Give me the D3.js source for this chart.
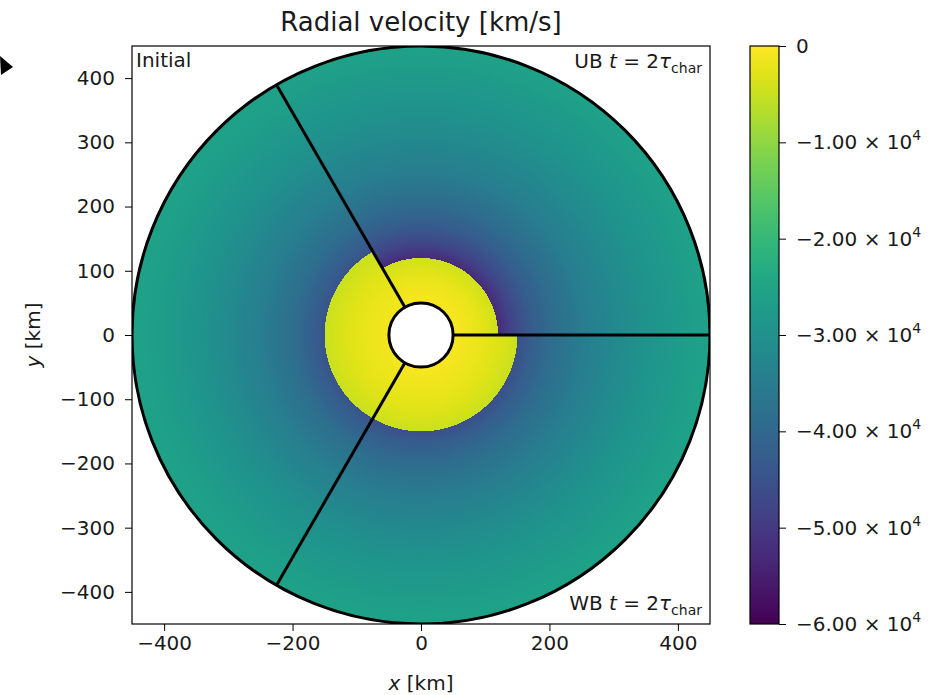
<!DOCTYPE html>
<html>
<head>
<meta charset="utf-8">
<script src="https://cdn.jsdelivr.net/npm/d3@7"></script>
<style>
  body { margin: 0; background: #fff; }
  text { font-family: "DejaVu Sans", sans-serif; fill: #1a1a1a; }
</style>
</head>
<body>
<svg id="chart" width="931" height="695"></svg>
<script>
// axis ticks (km) and colorbar ticks (km/s)
const xTicks = [-400, -200, 0, 200, 400];
const yTicks = [-400, -300, -200, -100, 0, 100, 200, 300, 400];
const cbTicks = [0, -1e4, -2e4, -3e4, -4e4, -5e4, -6e4];

// sector edges, degrees counter-clockwise from +x
const sectorNames = ["UB", "Initial", "WB"];
const sectorStart = [0, 120, 240];
const sectorEnd = [120, 240, 360];
const rHole = 50, rOuter = 450;

// radial profiles: post-shock (inside) and free-fall (outside)
const ubInR = [50, 70, 90, 110, 120];
const ubInV = [-600, -1200, -2200, -3600, -4500];
const ubOutR = [120, 140, 170, 200, 250, 300, 350, 400, 450];
const ubOutV = [-53000, -48000, -43000, -39500, -35000, -32000, -29500, -27500, -25800];

const iniInR = [50, 80, 110, 130, 150];
const iniInV = [-1000, -1800, -2800, -3800, -5000];
const iniOutR = [150, 170, 200, 250, 300, 350, 400, 450];
const iniOutV = [-44500, -42000, -38500, -34500, -31500, -29000, -27000, -25500];

const wbInR = [50, 80, 110, 130, 150];
const wbInV = [-600, -1500, -2600, -3600, -5000];
const wbOutR = [150, 170, 200, 250, 300, 350, 400, 450];
const wbOutV = [-45500, -42500, -39000, -35000, -31800, -29200, -27200, -25600];

const profiles = [
  { inR: ubInR, inV: ubInV, outR: ubOutR, outV: ubOutV },
  { inR: iniInR, inV: iniInV, outR: iniOutR, outV: iniOutV },
  { inR: wbInR, inV: wbInV, outR: wbOutR, outV: wbOutV },
];

const svg = d3.select("#chart");
const margin = { left: 132, right: 710, top: 46, bottom: 624 };

const x = d3.scaleLinear().domain([-450, 450]).range([margin.left, margin.right]);
const y = d3.scaleLinear().domain([-450, 450]).range([margin.bottom, margin.top]);
const rPx = d3.scaleLinear().domain([0, 450]).range([0, x(450) - x(0)]);
const color = d3.scaleSequential(d3.interpolateViridis).domain([-6e4, 0]);

const defs = svg.append("defs");
defs.append("clipPath").attr("id", "axclip")
  .append("rect")
  .attr("x", margin.left).attr("y", margin.top)
  .attr("width", margin.right - margin.left)
  .attr("height", margin.bottom - margin.top);

// one radial gradient per sector, colour stops from the profile scales
profiles.forEach((p, i) => {
  const grad = defs.append("radialGradient")
    .attr("id", "grad" + i)
    .attr("gradientUnits", "userSpaceOnUse")
    .attr("cx", 0).attr("cy", 0).attr("r", rPx(rOuter));
  const inner = d3.scaleLinear().domain(p.inR).range(p.inV).clamp(true);
  const outer = d3.scaleLinear().domain(p.outR).range(p.outV).clamp(true);
  const rs = p.inR[p.inR.length - 1];
  for (let r = 0; r <= rs; r += 2) {
    grad.append("stop").attr("offset", r / rOuter).attr("stop-color", color(inner(r)));
  }
  grad.append("stop").attr("offset", rs / rOuter).attr("stop-color", color(inner(rs)));
  for (let r = rs; r <= rOuter; r += 3) {
    grad.append("stop").attr("offset", r / rOuter).attr("stop-color", color(outer(r)));
  }
  grad.append("stop").attr("offset", 1).attr("stop-color", color(outer(rOuter)));
});

const plot = svg.append("g").attr("clip-path", "url(#axclip)");
const center = plot.append("g").attr("transform", `translate(${x(0)},${y(0)})`);

const toD3 = (deg) => Math.PI / 2 - (deg * Math.PI) / 180;
const arc = d3.arc().innerRadius(rPx(rHole)).outerRadius(rPx(rOuter));

sectorNames.forEach((name, i) => {
  center.append("path")
    .attr("d", arc({ startAngle: toD3(sectorEnd[i]), endAngle: toD3(sectorStart[i]) }))
    .attr("fill", `url(#grad${i})`);
});

// sector boundaries
sectorStart.forEach((deg) => {
  const a = (deg * Math.PI) / 180;
  center.append("line")
    .attr("x1", rPx(rHole) * Math.cos(a)).attr("y1", -rPx(rHole) * Math.sin(a))
    .attr("x2", rPx(rOuter) * Math.cos(a)).attr("y2", -rPx(rOuter) * Math.sin(a))
    .attr("stroke", "black").attr("stroke-width", 3);
});

center.append("circle").attr("r", rPx(rOuter))
  .attr("fill", "none").attr("stroke", "black").attr("stroke-width", 3);
center.append("circle").attr("r", rPx(rHole))
  .attr("fill", "white").attr("stroke", "black").attr("stroke-width", 3);

// axes
const fs = 20;
const minus = (d) => d3.format("d")(d).replace("-", "\u2212");
const xAxis = svg.append("g")
  .attr("transform", `translate(0,${margin.bottom})`)
  .call(d3.axisBottom(x).tickValues(xTicks).tickSize(7).tickPadding(5).tickFormat(minus));
const yAxis = svg.append("g")
  .attr("transform", `translate(${margin.left},0)`)
  .call(d3.axisLeft(y).tickValues(yTicks).tickSize(7).tickPadding(10).tickFormat(minus));
[xAxis, yAxis].forEach((g) => {
  g.select(".domain").remove();
  g.selectAll("text").attr("font-size", fs).attr("font-family", "DejaVu Sans").attr("fill", "#1a1a1a");
  g.selectAll("line").attr("stroke", "black").attr("stroke-width", 1);
});

svg.append("rect")
  .attr("x", margin.left).attr("y", margin.top)
  .attr("width", margin.right - margin.left).attr("height", margin.bottom - margin.top)
  .attr("fill", "none").attr("stroke", "black").attr("stroke-width", 1.2);

svg.append("text").attr("x", x(0)).attr("y", 31).attr("text-anchor", "middle")
  .attr("font-size", 26).text("Radial velocity [km/s]");

const xl = svg.append("text").attr("x", x(0)).attr("y", 690).attr("text-anchor", "middle").attr("font-size", fs);
xl.append("tspan").attr("font-style", "italic").text("x");
xl.append("tspan").text(" [km]");
const yl = svg.append("text").attr("transform", `translate(40,${y(0)}) rotate(-90)`)
  .attr("text-anchor", "middle").attr("font-size", fs);
yl.append("tspan").attr("font-style", "italic").text("y");
yl.append("tspan").text(" [km]");

// sector annotations
svg.append("text").attr("x", 136).attr("y", 67).attr("font-size", 20).text("Initial");

function stamp(label, yy) {
  const t = svg.append("text").attr("x", 702).attr("y", yy).attr("text-anchor", "end").attr("font-size", 20);
  t.append("tspan").text(label + " ");
  t.append("tspan").attr("font-style", "italic").text("t");
  t.append("tspan").text(" = 2");
  t.append("tspan").attr("font-style", "italic").text("\u03c4");
  t.append("tspan").attr("font-size", 14).attr("dy", 5).text("char");
}
stamp("UB", 68);
stamp("WB", 610);

// colorbar
const cb = { x: 750, w: 29 };
const cy = d3.scaleLinear().domain([-6e4, 0]).range([margin.bottom, margin.top]);
const cbGrad = defs.append("linearGradient").attr("id", "cbgrad")
  .attr("x1", 0).attr("y1", 1).attr("x2", 0).attr("y2", 0);
d3.range(0, 1.0001, 0.05).forEach((t) => {
  cbGrad.append("stop").attr("offset", t).attr("stop-color", d3.interpolateViridis(t));
});
svg.append("rect").attr("x", cb.x).attr("y", margin.top)
  .attr("width", cb.w).attr("height", margin.bottom - margin.top)
  .attr("fill", "url(#cbgrad)").attr("stroke", "black").attr("stroke-width", 1.2);

const cbAxis = svg.append("g").attr("transform", `translate(${cb.x + cb.w},0)`)
  .call(d3.axisRight(cy).tickValues(cbTicks).tickSize(7).tickPadding(10).tickFormat(""));
cbAxis.select(".domain").remove();
cbAxis.selectAll("line").attr("stroke", "black");
cbAxis.selectAll(".tick").each(function (d) {
  const t = d3.select(this).select("text")
    .attr("font-size", fs).attr("font-family", "DejaVu Sans").attr("fill", "#1a1a1a");
  if (d === 0) { t.text("0"); return; }
  t.append("tspan").text("\u2212" + (Math.abs(d) / 1e4).toFixed(2) + " \u00d7 10");
  t.append("tspan").attr("font-size", 14).attr("dy", -9).text("4");
});

// arrow tip at the left edge
svg.append("path").attr("d", "M0,56 L13,67 L1,75 Z").attr("fill", "black");
</script>
</body>
</html>
